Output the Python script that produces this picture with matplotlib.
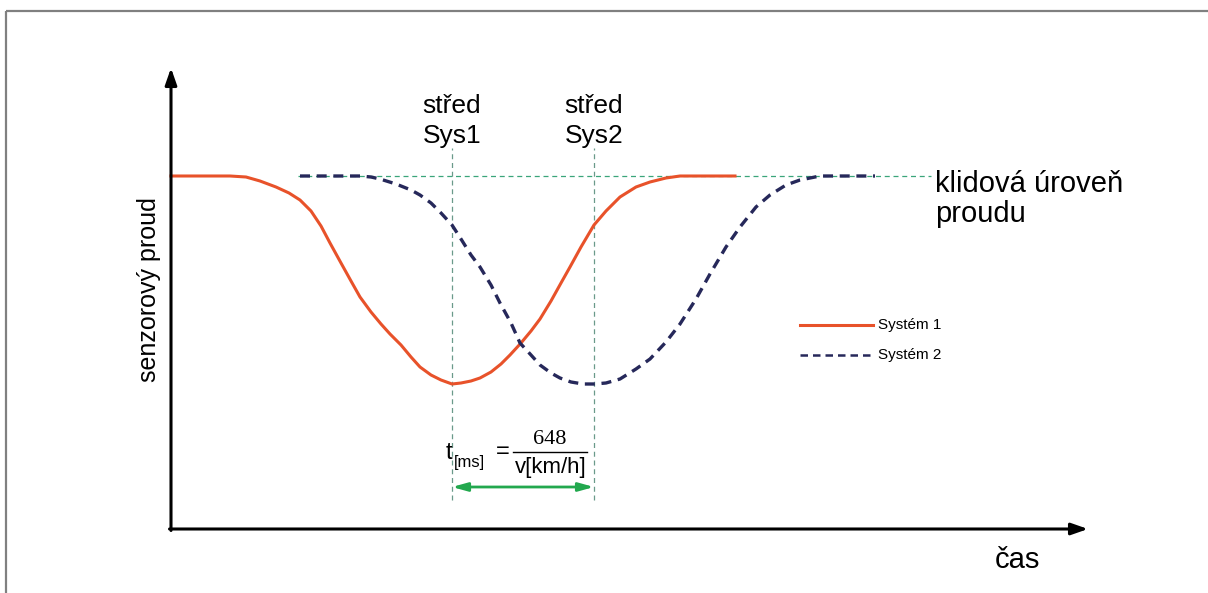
import numpy as np
import matplotlib.pyplot as plt

plt.rcParams['font.family'] = ['Liberation Sans', 'DejaVu Sans']

# x = time offset from origin, y = sensor current (same scale as axes length)
t1 = [0, 59, 75, 89, 105, 118, 129, 140, 150, 159, 170, 180, 189, 200, 210, 219,
      230, 240, 249, 260, 270, 281, 290, 300, 309, 320, 330, 339, 350, 360, 369,
      380, 390, 399, 410, 423, 435, 449, 465, 479, 495, 509, 564]
s1 = [353, 353, 352, 348, 342, 336, 329, 318, 303, 286, 266, 248, 232, 217, 205, 195,
      184, 172, 162, 154, 149, 145, 146, 148, 151, 157, 165, 174, 186, 198, 210,
      228, 246, 262, 282, 304, 318, 332, 342, 347, 351, 353, 353]

t2 = [129, 189, 200, 209, 225, 240, 249, 260, 270, 281, 290, 300, 309, 320, 329,
      340, 349, 360, 369, 380, 389, 400, 412, 423, 435, 449, 465, 479, 495, 509,
      525, 539, 555, 569, 585, 599, 615, 629, 649, 704]
s2 = [353, 353, 352, 350, 345, 339, 334, 326, 316, 304, 290, 274, 262, 244, 226,
      206, 186, 174, 164, 156, 151, 147, 145, 145, 146, 150, 160, 170, 187, 205,
      230, 255, 282, 302, 322, 334, 344, 349, 353, 353]

rest_level = 353
center1 = 281
center2 = 423
x_len = 917
y_len = 461

fig = plt.figure(figsize=(12.08, 5.93), dpi=100)
ax = fig.add_axes([0, 0, 1, 1])
ax.set_xlim(-171, 1208 - 171)
ax.set_ylim(-64, 529)
ax.axis('off')

# outer frame (left and top)
ax.plot([-165, -165], [-64, 518], color='#808080', lw=1.6, solid_capstyle='butt')
ax.plot([-165, 1037], [518, 518], color='#808080', lw=1.6, solid_capstyle='butt')

# axes arrows
ax.annotate('', xy=(0, y_len), xytext=(0, -1.5),
            arrowprops=dict(arrowstyle='-|>,head_length=1.0,head_width=0.35', color='black', lw=2.2,
                            shrinkA=0, shrinkB=0))
ax.annotate('', xy=(x_len, 0), xytext=(-1.5, 0),
            arrowprops=dict(arrowstyle='-|>,head_length=1.0,head_width=0.35', color='black', lw=2.2,
                            shrinkA=0, shrinkB=0))

# rest level and centre lines
ax.plot([127, 760], [rest_level, rest_level], color='#3aa57a', lw=0.9, ls=(0, (4, 3)))
for c in [center1, center2]:
    ax.plot([c, c], [29, 381], color='#6a9a8a', lw=0.9, ls=(0, (4, 3)))

# curves
ax.plot(t1, s1, color='#e8522a', lw=2.2)
ax.plot(t2, s2, color='#26285a', lw=2.4, ls=(0, (3, 2)))

# texts
ax.text(-22, 239, 'senzorový proud', rotation=90, ha='center', va='center', fontsize=18)
ax.text(center1, 408, 'střed\nSys1', ha='center', va='center', fontsize=19, linespacing=1.3)
ax.text(center2, 408, 'střed\nSys2', ha='center', va='center', fontsize=19, linespacing=1.3)
ax.text(764, 330, 'klidová úroveň\nproudu', ha='left', va='center', fontsize=21, linespacing=1.05)
ax.text(846, -31, 'čas', ha='center', va='center', fontsize=21)

# legend
ax.plot([629, 702], [204, 204], color='#e8522a', lw=2.2)
ax.text(707, 204, 'Systém 1', ha='left', va='center', fontsize=11)
ax.plot([629, 702], [174, 174], color='#26285a', lw=1.8, ls=(0, (3, 2)))
ax.text(707, 174, 'Systém 2', ha='left', va='center', fontsize=11)

# formula
ax.text(275, 70, 't', ha='left', va='baseline', fontsize=17)
ax.text(283, 62, '[ms]', ha='left', va='baseline', fontsize=12)
ax.text(332, 77, '=', ha='center', va='center', fontsize=17)
ax.plot([342, 416], [77, 77], color='black', lw=1.0)
ax.text(379, 89, '648', ha='center', va='center', fontsize=16, family='Liberation Serif')
ax.text(380, 62, 'v[km/h]', ha='center', va='center', fontsize=16)

# time difference arrow
ax.annotate('', xy=(center2, 42), xytext=(center1, 42),
            arrowprops=dict(arrowstyle='<|-|>,head_length=0.9,head_width=0.25', color='#22a84e', lw=2,
                            shrinkA=0, shrinkB=0))

fig.savefig('out.png', dpi=100)
